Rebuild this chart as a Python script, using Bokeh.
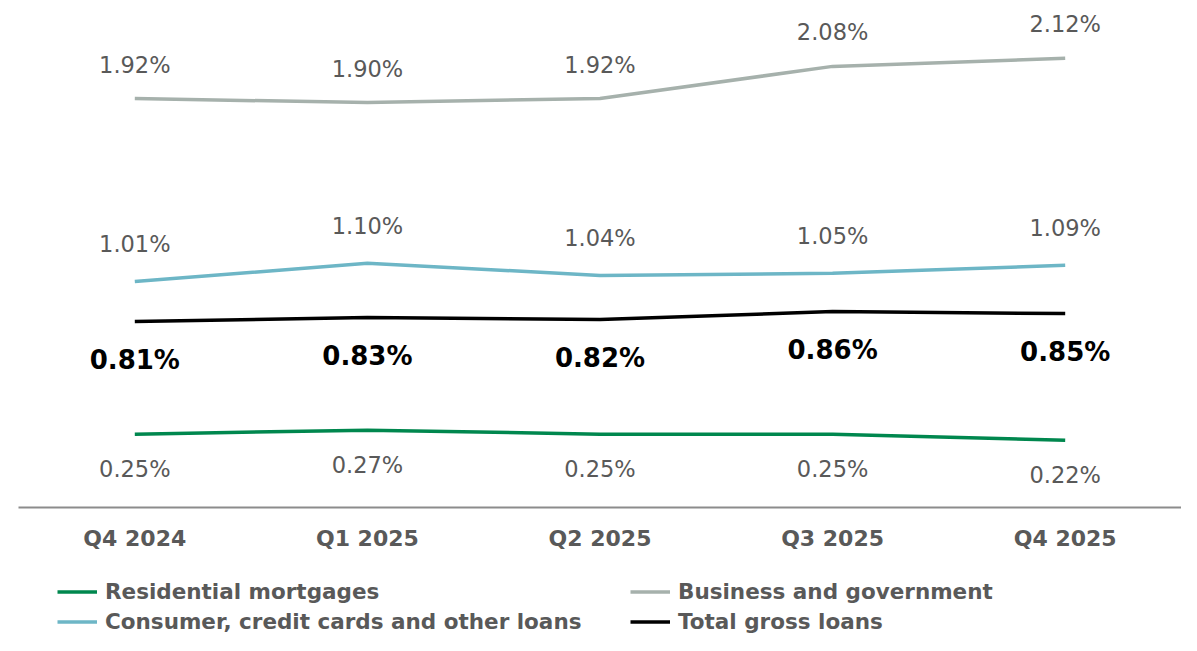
from bokeh.plotting import figure
from bokeh.layouts import column
from bokeh.models import FactorRange, Range1d, Legend, LegendItem, ColumnDataSource
from bokeh.core.properties import value
from bokeh.embed import file_html
from bokeh.resources import INLINE

quarters = ["Q4 2024", "Q1 2025", "Q2 2025", "Q3 2025", "Q4 2025"]
residential = [0.25, 0.27, 0.25, 0.25, 0.22]
business = [1.92, 1.90, 1.92, 2.08, 2.12]
consumer = [1.01, 1.10, 1.04, 1.05, 1.09]
total = [0.81, 0.83, 0.82, 0.86, 0.85]

names = ["Residential mortgages", "Consumer, credit cards and other loans",
         "Business and government", "Total gross loans"]
colors = ["#00874e", "#6db6c6", "#a6b1ac", "#000000"]

FONT = "DejaVu Sans"
TXT = "#595959"

W = 1181
p = figure(x_range=FactorRange(*quarters), y_range=Range1d(-0.115, 2.368),
           width=W, height=555, output_backend="svg", toolbar_location=None,
           min_border_left=18, min_border_right=0, min_border_top=8, min_border_bottom=48)
p.outline_line_color = None
p.xgrid.visible = False
p.ygrid.visible = False
p.yaxis.visible = False

xa = p.xaxis[0]
xa.axis_line_color = "#8c8c8c"
xa.axis_line_width = 2
xa.major_tick_line_color = None
xa.minor_tick_line_color = None
xa.major_label_text_font = FONT
xa.major_label_text_font_style = "bold"
xa.major_label_text_font_size = "22px"
xa.major_label_text_color = TXT
xa.major_label_standoff = 12

def fmt(vals):
    return [f"{v:.2f}%" for v in vals]

series = [
    (residential, colors[0], 22.5, "normal", TXT, 35),
    (consumer, colors[1], 22.5, "normal", TXT, -37),
    (business, colors[2], 22.5, "normal", TXT, -34),
    (total, colors[3], 26, "bold", "#000000", 38),
]
for vals, col, fs, style, tcol, off in series:
    src = ColumnDataSource(dict(x=quarters, y=vals, t=fmt(vals)))
    p.line("x", "y", source=src, line_color=col, line_width=3.5)
    p.text("x", "y", text="t", source=src, y_offset=off, text_align="center",
           text_baseline="middle", text_font=value(FONT), text_font_size=f"{fs}px",
           text_font_style=style, text_color=tcol)

# legend strip (single-point lines draw nothing but give the legend its swatches)
lg = figure(width=W, height=80, x_range=Range1d(0, 1), y_range=Range1d(0, 1),
            output_backend="svg", toolbar_location=None,
            min_border_left=0, min_border_right=0, min_border_top=0, min_border_bottom=0)
lg.outline_line_color = None
lg.xaxis.visible = False
lg.yaxis.visible = False
lg.xgrid.visible = False
lg.ygrid.visible = False
items = []
for name, col in zip(names, colors):
    r = lg.line(x=[-1], y=[-1], line_color=col, line_width=3.5)
    items.append(LegendItem(label=name, renderers=[r]))
legend = Legend(items=items, ncols=2, location=(39, 0),
                label_text_font=FONT, label_text_font_style="bold",
                label_text_font_size="21.5px", label_text_color=TXT,
                glyph_width=40, glyph_height=27, label_standoff=8,
                label_width=522, spacing=3, padding=0, margin=0,
                border_line_color=None, background_fill_alpha=0)
lg.add_layout(legend)

open("out.html", "w").write(file_html(column(p, lg), INLINE))
